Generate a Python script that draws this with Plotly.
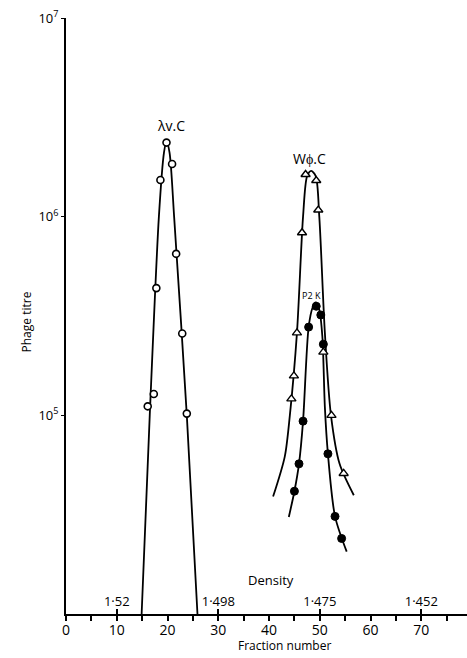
import plotly.graph_objects as go

# ---- data ----
lam_x = [16.1, 17.3, 17.8, 18.6, 19.8, 20.9, 21.7, 22.9, 23.8]
lam_y = [1.11e5, 1.28e5, 4.37e5, 1.53e6, 2.36e6, 1.84e6, 6.5e5, 2.58e5, 1.02e5]
lam_curve_x = [14.9, 16.5, 18.3, 19.3, 19.8, 20.4, 21.3, 23.8, 25.9]
lam_curve_y = [1e4, 1e5, 1e6, 2.1e6, 2.4e6, 2.1e6, 1e6, 1e5, 1e4]

w_x = [44.4, 44.9, 45.5, 46.5, 47.2, 49.3, 49.7, 50.7, 52.3, 54.7]
w_y = [1.21e5, 1.58e5, 2.6e5, 8.3e5, 1.63e6, 1.52e6, 1.08e6, 2.08e5, 1.0e5, 5.1e4]
w_curve_x = [40.8, 43.1, 44.1, 45.5, 46.7, 47.5, 48.3, 49.2, 49.9, 51.0, 52.2, 53.9, 56.7]
w_curve_y = [3.9e4, 6.2e4, 1e5, 2.6e5, 1e6, 1.6e6, 1.7e6, 1.6e6, 1e6, 2.6e5, 1e5, 5.7e4, 3.96e4]

p_x = [45.0, 45.9, 46.7, 47.8, 49.3, 50.2, 50.7, 51.6, 53.0, 54.3]
p_y = [4.15e4, 5.7e4, 9.35e4, 2.78e5, 3.54e5, 3.2e5, 2.28e5, 6.4e4, 3.1e4, 2.4e4]
p_curve_x = [43.9, 45.0, 45.9, 46.7, 47.8, 48.6, 49.2, 49.9, 50.5, 51.0, 51.6, 53.0, 55.3]
p_curve_y = [3.08e4, 4.15e4, 5.7e4, 9.35e4, 2.78e5, 3.5e5, 3.7e5, 3.4e5, 2.5e5, 1.1e5, 6.4e4, 3.1e4, 2.06e4]

x_ticks = [0, 5, 10, 15, 20, 25, 30, 35, 40, 45, 50, 55, 60, 65, 70, 75]
x_ticklabels = ["0", "", "10", "", "20", "", "30", "", "40", "", "50", "", "60", "", "70", ""]
density_pos = [10, 30, 50, 70]
density_labels = ["1·52", "1·498", "1·475", "1·452"]
y_ticks = [1e4, 1e5, 1e6, 1e7]
y_ticklabels = ["10<sup>4</sup>", "10<sup>5</sup>", "10<sup>6</sup>", "10<sup>7</sup>"]

FONT = "Open Sans"
BLACK = "black"
fig = go.Figure()

line_style = dict(color=BLACK, width=1.8, shape="spline", smoothing=0.8)
for cx, cy in [(lam_curve_x, lam_curve_y), (w_curve_x, w_curve_y), (p_curve_x, p_curve_y)]:
    fig.add_trace(go.Scatter(x=cx, y=cy, mode="lines", line=line_style,
                             hoverinfo="skip", showlegend=False))

fig.add_trace(go.Scatter(x=lam_x, y=lam_y, mode="markers", showlegend=False,
                         marker=dict(symbol="circle", size=7, color="white",
                                     line=dict(color=BLACK, width=1.6))))
fig.add_trace(go.Scatter(x=w_x, y=w_y, mode="markers", showlegend=False,
                         marker=dict(symbol="triangle-up", size=8, color="white",
                                     line=dict(color=BLACK, width=1.4))))
fig.add_trace(go.Scatter(x=p_x, y=p_y, mode="markers", showlegend=False,
                         marker=dict(symbol="circle", size=8, color=BLACK,
                                     line=dict(color=BLACK, width=1))))
# dummy trace for density axis
fig.add_trace(go.Scatter(x=[0], y=[1e4], xaxis="x2", mode="markers",
                         marker=dict(opacity=0), showlegend=False, hoverinfo="skip"))

fig.update_layout(
    width=467, height=658,
    margin=dict(l=66, r=0, t=18, b=44),
    paper_bgcolor="white", plot_bgcolor="white",
    font=dict(family=FONT, color=BLACK, size=13),
    xaxis=dict(range=[0, 79], showgrid=False, zeroline=False, automargin=False,
               showline=True, linecolor=BLACK, linewidth=1.8,
               ticks="outside", ticklen=5, tickwidth=1.6, tickcolor=BLACK,
               ticklabelstandoff=-3,
               tickvals=x_ticks, ticktext=x_ticklabels,
               tickfont=dict(size=14, family=FONT, color=BLACK)),
    xaxis2=dict(range=[0, 79], overlaying="x", anchor="y", side="bottom",
                showgrid=False, zeroline=False, showline=False, automargin=False,
                ticks="inside", ticklen=5, tickwidth=1.6, tickcolor=BLACK,
                ticklabelposition="inside",
                tickvals=density_pos, ticktext=density_labels,
                tickfont=dict(size=13, family=FONT, color=BLACK)),
    yaxis=dict(type="log", range=[4, 7], showgrid=False, zeroline=False, automargin=False,
               showline=True, linecolor=BLACK, linewidth=1.8,
               ticks="outside", ticklen=3, tickwidth=1, tickcolor=BLACK,
               tickvals=y_ticks, ticktext=y_ticklabels,
               tickfont=dict(size=13, family=FONT, color=BLACK)),
)

fig.add_annotation(x=20.7, y=6.461, text="λv.C", showarrow=False,
                   font=dict(size=14, family=FONT, color=BLACK))
fig.add_annotation(x=48.0, y=6.295, text="Wϕ.C", showarrow=False,
                   font=dict(size=14, family=FONT, color=BLACK))
fig.add_annotation(x=48.3, y=5.605, text="P2 K", showarrow=False,
                   font=dict(size=9, family=FONT, color=BLACK))
fig.add_annotation(x=40.4, y=4.17, text="Density", showarrow=False,
                   font=dict(size=13, family=FONT, color=BLACK))
fig.add_annotation(x=0.545, xref="paper", y=0, yref="paper", yshift=-31,
                   yanchor="middle", text="Fraction number", showarrow=False,
                   font=dict(size=12, family=FONT, color=BLACK))
fig.add_annotation(x=0, xref="paper", xshift=-50, y=0.49, yref="paper",
                   text="Phage titre", textangle=-90, showarrow=False,
                   font=dict(size=12, family=FONT, color=BLACK))

fig.write_html("out.html", config={"displayModeBar": False},
               post_script="document.body.style.margin='0';document.body.style.overflow='hidden';")
